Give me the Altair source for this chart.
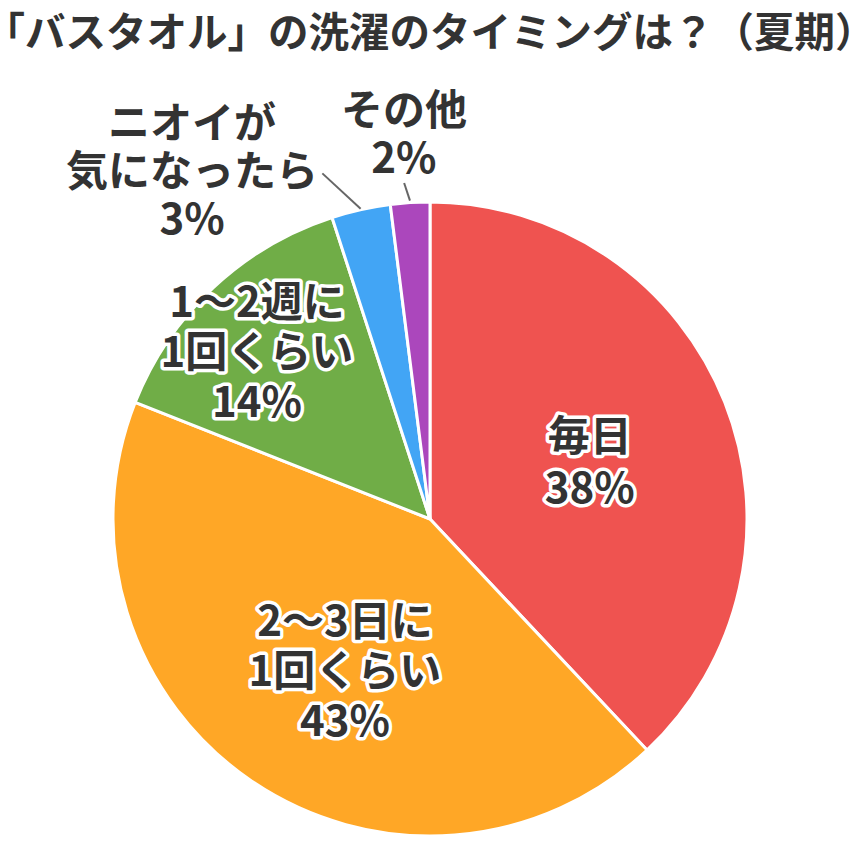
import math
import altair as alt
import pandas as pd

# ---- data ----
categories = ["毎日", "2〜3日に\n1回くらい", "1〜2週に\n1回くらい", "ニオイが\n気になったら", "その他"]
percents = [38, 43, 14, 3, 2]
title_text = "「バスタオル」の洗濯のタイミングは？（夏期）"

# ---- style / layout ----
colors = ["#EF5350", "#FFA726", "#70AD47", "#42A5F5", "#AB47BC"]
W, H = 844, 844
CX, CY, R = 422, 511, 317
FONT = "Noto Sans CJK JP"
TEXT_COLOR = "#333333"
LABEL_SIZE = 42
# label block radius, angle offset (deg), line height per slice
label_r = [169, 176, 239, 420, 384]
label_off = [2.5, -5.3, -3.2, -21.9, -0.3]
label_lh = [52, 50, 50, 48, 48]
inside = [True, True, True, False, False]
# leader lines: (end radius, start radius, start angle offset)
leaders = {3: (318, 362, -4.7), 4: (319, 337, -0.8)}

rows = []
cum = 0
for i, (c, p) in enumerate(zip(categories, percents)):
    start, end = cum, cum + p
    cum = end
    mid = (start + end) / 2 * 3.6
    a = math.radians(mid + label_off[i])
    text = f"{c}\n{p}%"
    n = text.count("\n") + 1
    rows.append(dict(
        cat=c, pct=p, start=start, end=end,
        label=text, lh=label_lh[i],
        lx=CX + label_r[i] * math.sin(a),
        ly=CY - label_r[i] * math.cos(a) - (n - 1) * label_lh[i] / 2,
        inside=inside[i],
    ))
df = pd.DataFrame(rows)

lrows = []
for i, (re, rs, off) in leaders.items():
    mid = (rows[i]["start"] + rows[i]["end"]) / 2 * 3.6
    a1 = math.radians(mid)
    a0 = math.radians(mid + off)
    lrows.append(dict(
        x=CX + rs * math.sin(a0), y=CY - rs * math.cos(a0),
        x2=CX + re * math.sin(a1), y2=CY - re * math.cos(a1),
    ))
ldf = pd.DataFrame(lrows)

xs = alt.Scale(domain=[0, W], range=[0, W])
ys = alt.Scale(domain=[0, H], range=[0, H])

arcs = alt.Chart(df).mark_arc(outerRadius=R, stroke="white", strokeWidth=3).encode(
    theta=alt.Theta("start:Q", scale=alt.Scale(domain=[0, 100], range=[0, 2 * math.pi])),
    theta2="end:Q",
    color=alt.Color("cat:N", scale=alt.Scale(domain=categories, range=colors), legend=None),
    x=alt.value(CX),
    y=alt.value(CY),
)

rules = alt.Chart(ldf).mark_rule(color="#666666", strokeWidth=2).encode(
    x=alt.X("x:Q", scale=xs, axis=None),
    y=alt.Y("y:Q", scale=ys, axis=None),
    x2="x2:Q",
    y2="y2:Q",
)

def label_layer(data, halo, lh):
    kw = dict(font=FONT, fontWeight="bold", fontSize=LABEL_SIZE, lineBreak="\n",
              lineHeight=lh, align="center", baseline="middle")
    if halo:
        m = alt.Chart(data).mark_text(fill="white", stroke="white", strokeWidth=7,
                                      strokeJoin="round", **kw)
    else:
        m = alt.Chart(data).mark_text(fill=TEXT_COLOR, **kw)
    return m.encode(
        x=alt.X("lx:Q", scale=xs, axis=None),
        y=alt.Y("ly:Q", scale=ys, axis=None),
        text="label:N",
    )

layers = [arcs, rules]
for i in range(len(categories)):
    d = df.iloc[[i]]
    if inside[i]:
        layers.append(label_layer(d, True, label_lh[i]))
    layers.append(label_layer(d, False, label_lh[i]))

title_df = pd.DataFrame([dict(lx=CX, ly=27, label=title_text)])
title = alt.Chart(title_df).mark_text(
    font=FONT, fontWeight="bold", fontSize=40.5, fill=TEXT_COLOR,
    align="center", baseline="middle",
).encode(
    x=alt.X("lx:Q", scale=xs, axis=None),
    y=alt.Y("ly:Q", scale=ys, axis=None),
    text="label:N",
)
layers.append(title)

chart = alt.layer(*layers).properties(
    width=W, height=H, padding=0,
    autosize=alt.AutoSizeParams(type="none"),
    background="white",
).configure_view(stroke=None)

chart.save("out.html", embed_options={"renderer": "svg", "actions": False})
